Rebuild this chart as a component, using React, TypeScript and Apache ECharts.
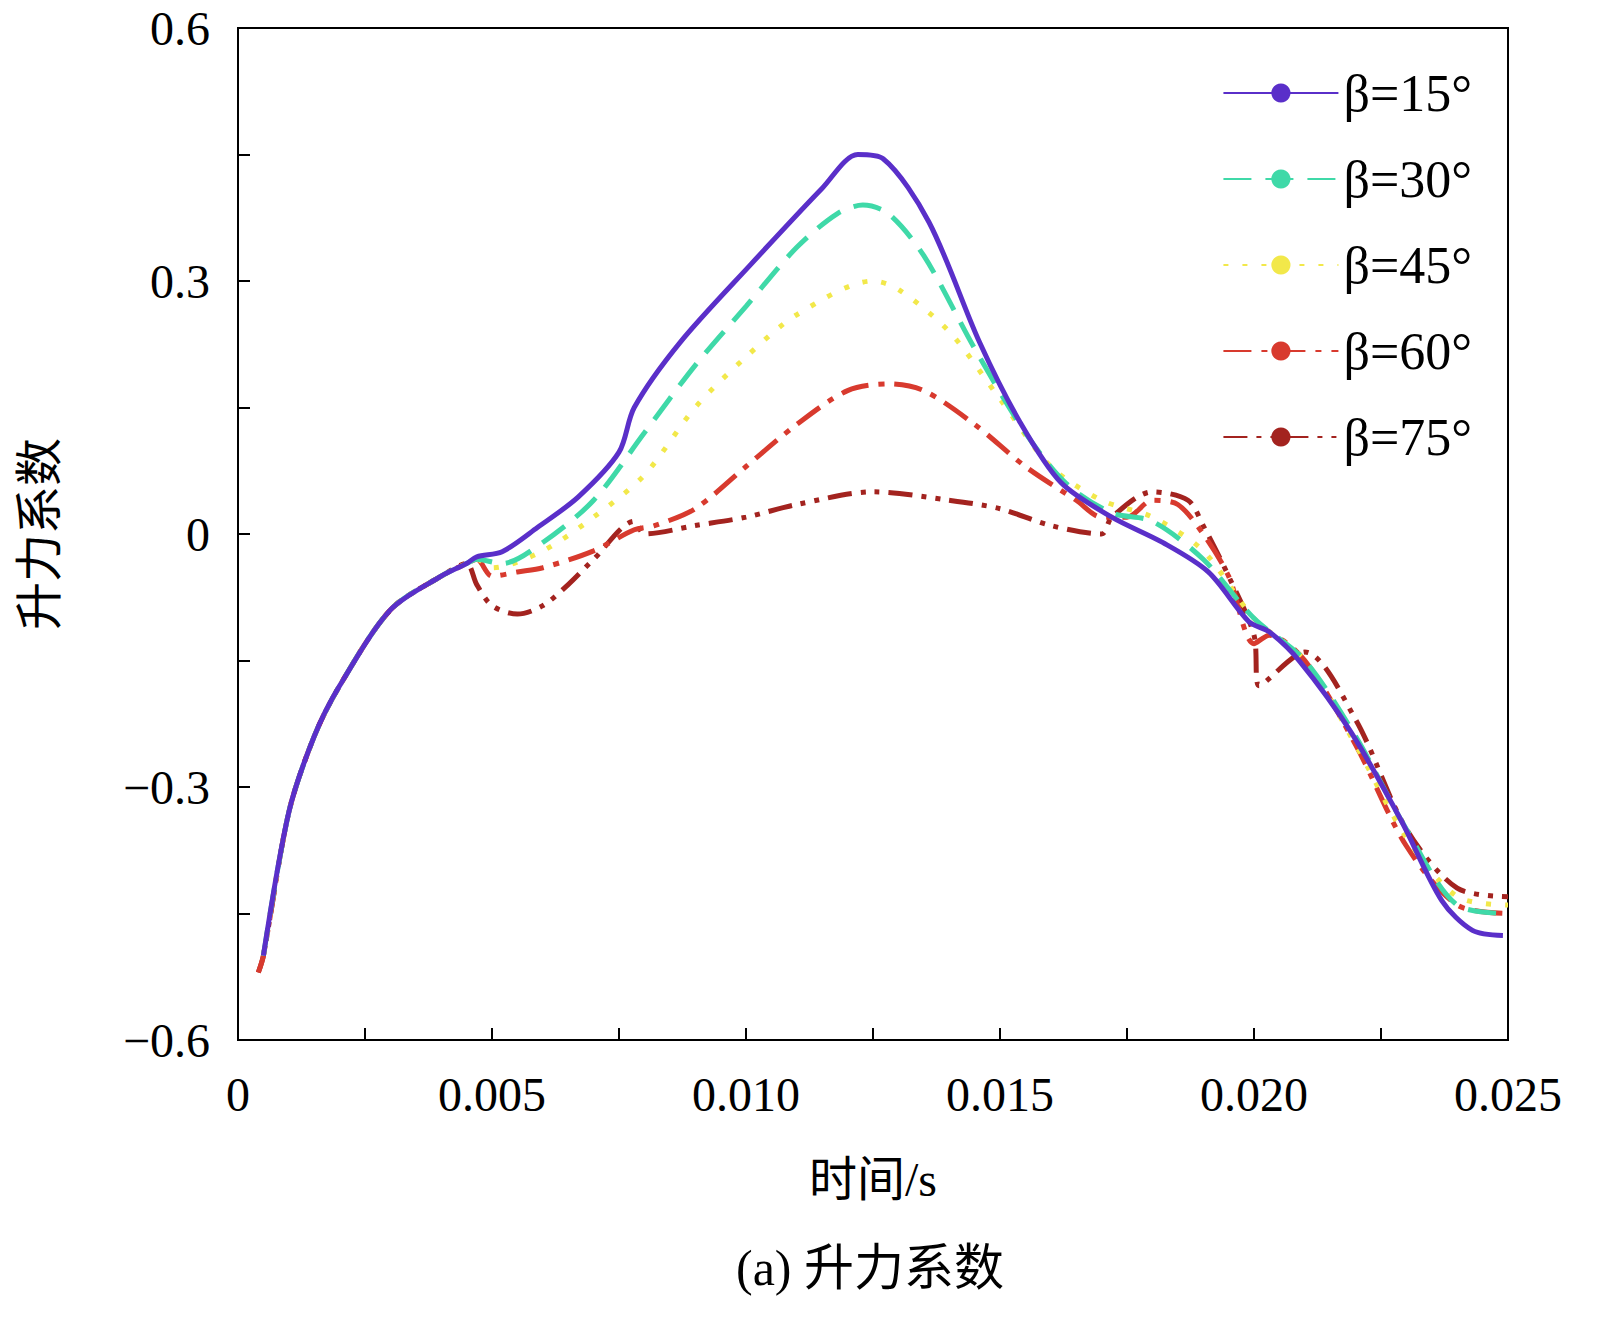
import { useEffect, useRef } from "react";
import * as echarts from "echarts";

const names = ["β=15°", "β=30°", "β=45°", "β=60°", "β=75°"];
const colors = ["#5a2fc9", "#3fd9a8", "#f2e84a", "#d83a2e", "#a3231f"];
const dashes: any[] = ["solid", [28, 14], [5, 14], [28, 10, 6, 10], [24, 9, 5, 9, 5, 9]];

const start: number[][] = [
  [0.0005, -0.5], [0.001, -0.33], [0.0015, -0.24], [0.002, -0.18], [0.003, -0.09], [0.004, -0.05], [0.0045, -0.035],
];

const s15: number[][] = [
  [0.0047, -0.027], [0.0052, -0.021], [0.0059, 0.008], [0.0067, 0.044], [0.0075, 0.097], [0.0078, 0.15], [0.0087, 0.227],
  [0.0101, 0.32], [0.0115, 0.41], [0.0122, 0.45], [0.0127, 0.445], [0.0136, 0.37], [0.0146, 0.227], [0.0154, 0.132],
  [0.0162, 0.061], [0.0172, 0.02], [0.0182, -0.01], [0.0191, -0.045], [0.0199, -0.104], [0.0203, -0.116], [0.0209, -0.151],
  [0.0219, -0.234], [0.0229, -0.34], [0.0237, -0.435], [0.0243, -0.47], [0.0249, -0.476],
];
const s30: number[][] = [
  [0.0047, -0.03], [0.0052, -0.035], [0.006, -0.01], [0.007, 0.04], [0.008, 0.12], [0.009, 0.2], [0.01, 0.27], [0.011, 0.34],
  [0.0118, 0.38], [0.0123, 0.39], [0.0128, 0.38], [0.0135, 0.33], [0.0145, 0.22], [0.0155, 0.12], [0.0163, 0.06],
  [0.0172, 0.025], [0.018, 0.015], [0.019, -0.03], [0.02, -0.1], [0.021, -0.15], [0.022, -0.24], [0.023, -0.35],
  [0.024, -0.44], [0.025, -0.45],
];
const s45: number[][] = [
  [0.0047, -0.03], [0.005, -0.04], [0.006, -0.02], [0.007, 0.02], [0.008, 0.07], [0.009, 0.15], [0.01, 0.21], [0.011, 0.26],
  [0.0125, 0.3], [0.013, 0.29], [0.014, 0.24], [0.015, 0.16], [0.016, 0.08], [0.017, 0.04], [0.018, 0.02], [0.019, -0.02],
  [0.02, -0.1], [0.021, -0.15], [0.022, -0.25], [0.023, -0.36], [0.024, -0.43], [0.025, -0.44],
];
const s60: number[][] = [
  [0.0047, -0.03], [0.005, -0.05], [0.0055, -0.045], [0.006, -0.04], [0.007, -0.02], [0.0078, 0.005], [0.0082, 0.01],
  [0.009, 0.03], [0.01, 0.08], [0.011, 0.13], [0.012, 0.17], [0.0128, 0.178], [0.0135, 0.17], [0.0145, 0.13],
  [0.0155, 0.08], [0.0165, 0.04], [0.017, 0.02], [0.0175, 0.02], [0.018, 0.04], [0.0185, 0.035], [0.019, 0.0],
  [0.0195, -0.05], [0.02, -0.13], [0.0203, -0.12], [0.021, -0.15], [0.022, -0.25], [0.023, -0.37], [0.024, -0.44], [0.025, -0.45],
];
const s75: number[][] = [
  [0.0047, -0.06], [0.005, -0.085], [0.0055, -0.095], [0.006, -0.085], [0.0065, -0.06], [0.007, -0.03], [0.0078, 0.015],
  [0.008, 0.0], [0.009, 0.01], [0.01, 0.02], [0.011, 0.035], [0.0125, 0.05], [0.014, 0.04], [0.015, 0.03], [0.016, 0.01],
  [0.017, 0.0], [0.0172, 0.02], [0.018, 0.05], [0.0187, 0.04], [0.019, 0.01], [0.0195, -0.05], [0.02, -0.12],
  [0.0201, -0.18], [0.021, -0.14], [0.022, -0.22], [0.023, -0.35], [0.024, -0.42], [0.025, -0.43],
];
const seriesData = [s15, s30, s45, s60, s75];

const font = "'Liberation Serif', 'Times New Roman', serif";
const cjk = "'Liberation Serif', 'Noto Sans CJK SC', serif";

export default function App() {
  const ref = useRef<HTMLDivElement>(null);
  useEffect(() => {
    if (!ref.current) return;
    const chart = echarts.init(ref.current, undefined, { renderer: "svg" });
    chart.setOption({
      animation: false,
      backgroundColor: "#fff",
      grid: { left: 238, right: 89, top: 28, bottom: 293 },
      legend: {
        right: 120, top: 62, orient: "vertical", itemWidth: 115, itemHeight: 24, itemGap: 34,
        textStyle: { fontFamily: font, fontSize: 52, color: "#000" },
        data: names,
      },
      xAxis: {
        type: "value", min: 0, max: 0.025, interval: 0.005,
        axisLine: { onZero: false, lineStyle: { color: "#000", width: 2 } },
        axisTick: { inside: true, length: 12, lineStyle: { color: "#000", width: 2 } },
        minorTick: { show: true, splitNumber: 2, length: 12, lineStyle: { color: "#000", width: 2 } },
        splitLine: { show: false },
        axisLabel: { fontFamily: font, fontSize: 48, color: "#000", margin: 30, formatter: (v: number) => (v === 0 ? "0" : v.toFixed(3)) },
        name: "时间/s", nameLocation: "middle", nameGap: 115,
        nameTextStyle: { fontFamily: cjk, fontSize: 48, color: "#000" },
      },
      yAxis: {
        type: "value", min: -0.6, max: 0.6, interval: 0.3,
        axisLine: { show: true, lineStyle: { color: "#000", width: 2 } },
        axisTick: { inside: true, length: 12, lineStyle: { color: "#000", width: 2 } },
        minorTick: { show: true, splitNumber: 2, length: 12, lineStyle: { color: "#000", width: 2 } },
        splitLine: { show: false },
        axisLabel: { fontFamily: font, fontSize: 48, color: "#000", margin: 28, formatter: (v: number) => (v === 0 ? "0" : v.toFixed(1).replace("-", "−")) },
        name: "升力系数", nameLocation: "middle", nameGap: 175, nameRotate: 90,
        nameTextStyle: { fontFamily: cjk, fontSize: 48, color: "#000" },
      },
      graphic: [
        { type: "rect", shape: { x: 238, y: 28, width: 1270, height: 1012 }, style: { fill: "none", stroke: "#000", lineWidth: 2 }, silent: true },
        { type: "text", x: 870, y: 1268, style: { text: "(a) 升力系数", fontFamily: cjk, fontSize: 50, fill: "#000", textAlign: "center", textVerticalAlign: "middle" } },
      ],
      series: seriesData.map((d, i) => ({
        name: names[i], type: "line", symbol: "none", smooth: 0.3, z: 10 - i,
        data: [...(i >= 3 ? [[0.0004, -0.52] as number[]] : []), ...start, ...d],
        lineStyle: { color: colors[i], width: 5, type: dashes[i] },
        itemStyle: { color: colors[i] },
      })),
    });
    return () => chart.dispose();
  }, []);
  return <div ref={ref} style={{ position: "absolute", left: 0, top: 0, width: 1597, height: 1333 }} />;
}
